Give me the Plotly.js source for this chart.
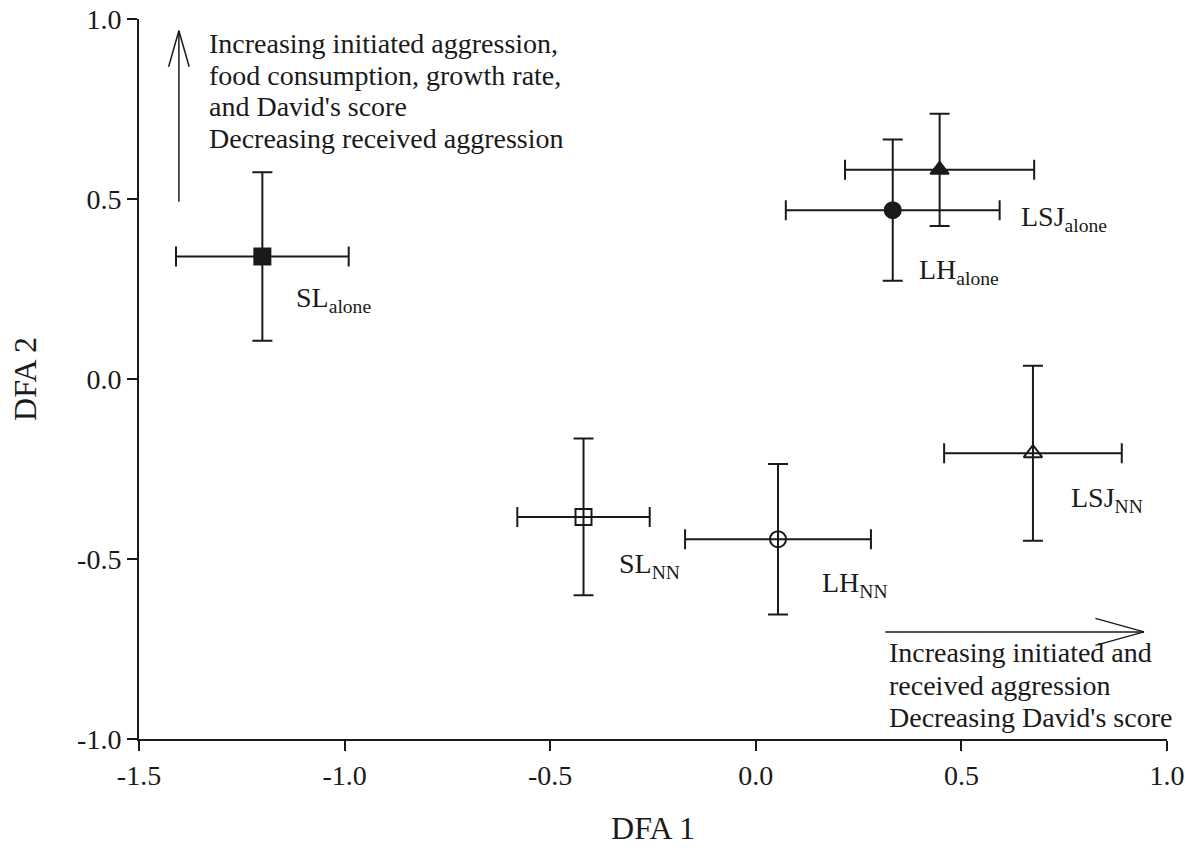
<!DOCTYPE html>
<html>
<head>
<meta charset="utf-8">
<script src="https://cdn.plot.ly/plotly-3.0.1.min.js"></script>
<style>html,body{margin:0;padding:0;background:#fff;}#chart{width:1185px;height:858px;}</style>
</head>
<body>
<div id="chart"></div>
<script>
// ---- data ----
var groups   = ['SL alone', 'LH alone', 'LSJ alone', 'SL NN', 'LH NN', 'LSJ NN'];
var dfa1     = [-1.200, 0.333, 0.447, -0.419, 0.054, 0.674];
var dfa2     = [0.340, 0.469, 0.581, -0.383, -0.445, -0.206];
var dfa1Err  = [0.210, 0.260, 0.230, 0.161, 0.226, 0.216];
var dfa2Err  = [0.234, 0.196, 0.156, 0.218, 0.209, 0.243];
var labelMain = ['SL', 'LH', 'LSJ', 'SL', 'LH', 'LSJ'];
var labelSub  = ['alone', 'alone', 'alone', 'NN', 'NN', 'NN'];
var xTickVals = [-1.5, -1.0, -0.5, 0.0, 0.5, 1.0];
var xTickText = ['-1.5', '-1.0', '-0.5', '0.0', '0.5', '1.0'];
var yTickVals = [-1.0, -0.5, 0.0, 0.5, 1.0];
var yTickText = ['-1.0', '-0.5', '0.0', '0.5', '1.0'];
var topNote = ['Increasing initiated aggression,', 'food consumption, growth rate,', "and David's score", 'Decreasing received aggression'];
var bottomNote = ['Increasing initiated and', 'received aggression', "Decreasing David's score"];

// ---- styling ----
var FONT = 'Liberation Serif, Times New Roman, Times, serif';
var INK = '#1a1a1a';
var symbols = ['square', 'circle', 'triangle-up', 'square-open', 'circle-open', 'triangle-up-open'];

var trace = {
  type: 'scatter', mode: 'markers',
  x: dfa1, y: dfa2, text: groups,
  marker: {symbol: symbols, size: 16, color: INK, line: {color: INK, width: 2}},
  error_x: {type: 'data', array: dfa1Err, visible: true, color: INK, thickness: 2, width: 10},
  error_y: {type: 'data', array: dfa2Err, visible: true, color: INK, thickness: 2, width: 10},
  hoverinfo: 'none', showlegend: false
};

// label positions (data coords, left edge / text middle)
var labelPos = [[-1.1235, 0.222], [0.3925, 0.298], [0.639, 0.446], [-0.337, -0.517], [0.1556, -0.572], [0.761, -0.334]];
var annotations = [];
labelMain.forEach(function (m, i) {
  annotations.push({
    x: labelPos[i][0], y: labelPos[i][1], xref: 'x', yref: 'y',
    text: m + '<sub>' + labelSub[i] + '</sub>', showarrow: false,
    xanchor: 'left', yanchor: 'middle',
    font: {family: FONT, size: 28, color: INK}
  });
});
var topY = [0.932, 0.842, 0.756, 0.668];
topNote.forEach(function (t, i) {
  annotations.push({x: -1.334, y: topY[i], xref: 'x', yref: 'y', text: t, showarrow: false,
    xanchor: 'left', yanchor: 'middle', font: {family: FONT, size: 28, color: INK}});
});
var botY = [-0.760, -0.850, -0.940];
bottomNote.forEach(function (t, i) {
  annotations.push({x: 0.318, y: botY[i], xref: 'x', yref: 'y', text: t, showarrow: false,
    xanchor: 'left', yanchor: 'middle', font: {family: FONT, size: 28, color: INK}});
});

function seg(x0, y0, x1, y1) {
  return {type: 'line', xref: 'x', yref: 'y', x0: x0, y0: y0, x1: x1, y1: y1,
    line: {color: INK, width: 1.5}};
}
var shapes = [
  // vertical arrow
  seg(-1.403, 0.4925, -1.403, 0.9675),
  seg(-1.403, 0.9675, -1.428, 0.8675),
  seg(-1.403, 0.9675, -1.378, 0.8675),
  // horizontal arrow
  seg(0.315, -0.7025, 0.944, -0.7025),
  seg(0.944, -0.7025, 0.826, -0.665),
  seg(0.944, -0.7025, 0.826, -0.740)
];

var layout = {
  width: 1185, height: 858,
  margin: {l: 139, r: 18, t: 19, b: 119},
  paper_bgcolor: '#fff', plot_bgcolor: '#fff',
  font: {family: FONT, color: INK, size: 28},
  xaxis: {
    range: [-1.5, 1.0], tickvals: xTickVals, ticktext: xTickText,
    showgrid: false, zeroline: false, showline: true, linecolor: INK, linewidth: 2,
    ticks: 'outside', ticklen: 10, tickwidth: 2, tickcolor: INK,
    tickfont: {family: FONT, size: 28, color: INK},
    title: {text: 'DFA 1', font: {family: FONT, size: 32, color: INK}, standoff: 27}
  },
  yaxis: {
    range: [-1.0, 1.0], tickvals: yTickVals, ticktext: yTickText,
    showgrid: false, zeroline: false, showline: true, linecolor: INK, linewidth: 2,
    ticks: 'outside', ticklen: 10, tickwidth: 2, tickcolor: INK,
    tickfont: {family: FONT, size: 28, color: INK},
    title: {text: 'DFA 2', font: {family: FONT, size: 32, color: INK}, standoff: 31}
  },
  annotations: annotations,
  shapes: shapes,
  showlegend: false
};

Plotly.newPlot('chart', [trace], layout, {staticPlot: true, displayModeBar: false});
</script>
</body>
</html>
